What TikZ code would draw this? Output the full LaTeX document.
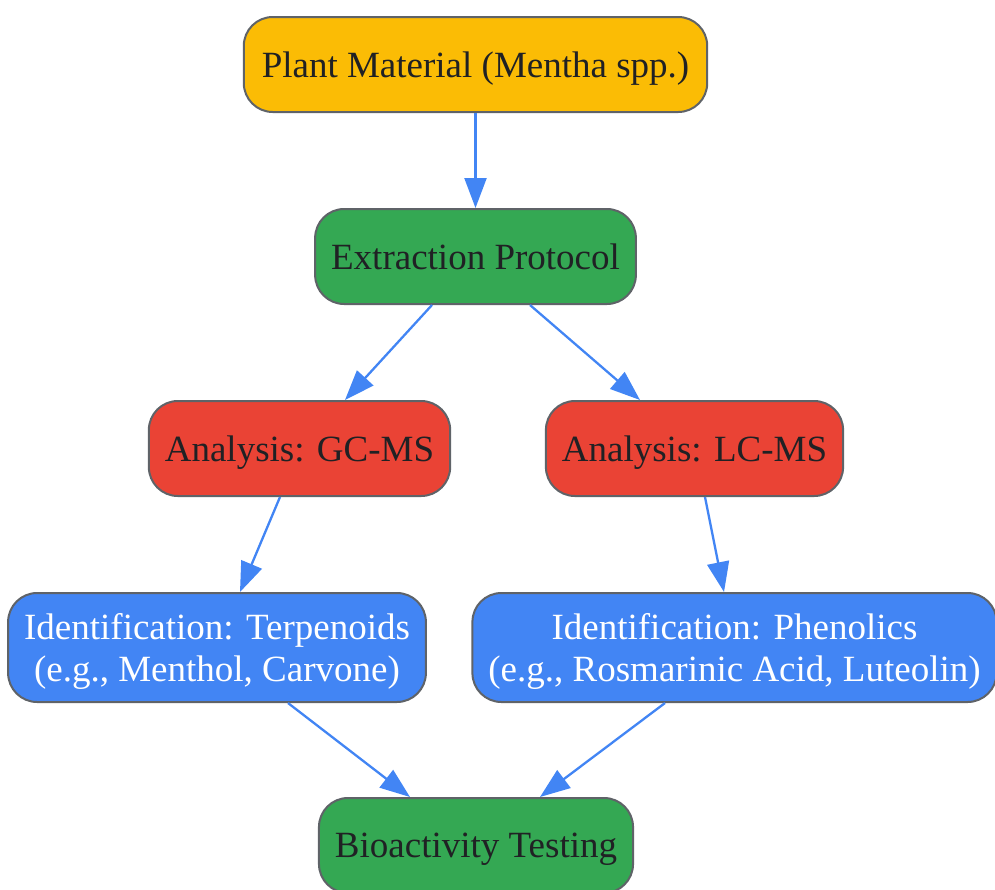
\documentclass[tikz,border=0pt]{standalone}
\usepackage{fontspec}
\setmainfont{Liberation Serif}
\usetikzlibrary{arrows.meta}
\definecolor{gyellow}{HTML}{FBBC05}
\definecolor{ggreen}{HTML}{34A853}
\definecolor{gred}{HTML}{EA4335}
\definecolor{gblue}{HTML}{4285F4}
\definecolor{ggrey}{HTML}{5F6368}
\definecolor{gtext}{HTML}{202124}
\begin{document}
\begin{tikzpicture}[x=1pt, y=-1pt,
	box/.style={draw=ggrey, line width=2pt, rounded corners=29pt, minimum height=95pt,
		inner xsep=16pt, text depth=0pt, align=center, text=gtext, font=\fontsize{37}{42}\selectfont},
	flow/.style={gblue, line width=2.3pt, -{Triangle[length=30pt, width=22pt]}}]
	
	\useasboundingbox (0,0) rectangle (995,889);
	
	\node[box, fill=gyellow, inner xsep=18pt] (plant) at (475.5,64.5) {Plant Material (Mentha spp.)};
	\node[box, fill=ggreen] (extract) at (475.5,256.5) {Extraction Protocol};
	\node[box, fill=gred] (gcms) at (299.5,448.5) {Analysis: GC-MS}; %Analysen
	\node[box, fill=gred] (lcms) at (694.5,448.5) {Analysis: LC-MS};
	\node[box, fill=gblue, text=white, minimum height=109pt] (terp) at (217,647.5)
		{Identification: Terpenoids\\(e.g., Menthol, Carvone)};
	\node[box, fill=gblue, text=white, minimum height=109pt] (phen) at (734.5,647.5)
		{Identification: Phenolics\\(e.g., Rosmarinic Acid, Luteolin)};
	\node[box, fill=ggreen] (bio) at (476,845.5) {Bioactivity Testing};
	
	\draw[flow] (plant) -- (extract);
	\draw[flow] ([xshift=-43.5pt]extract.south) -- ([xshift=45.5pt]gcms.north);
	\draw[flow] ([xshift=54.5pt]extract.south) -- ([xshift=-54.5pt]lcms.north);
	\draw[flow] ([xshift=-19.5pt]gcms.south) -- ([xshift=23pt]terp.north);
	\draw[flow] ([xshift=10.5pt]lcms.south) -- ([xshift=-10.5pt]phen.north);
	\draw[flow] ([xshift=71pt]terp.south) -- ([xshift=-66pt]bio.north); %Zusammenführung
	\draw[flow] ([xshift=-69.5pt]phen.south) -- ([xshift=64pt]bio.north);
	
\end{tikzpicture}
\end{document}
